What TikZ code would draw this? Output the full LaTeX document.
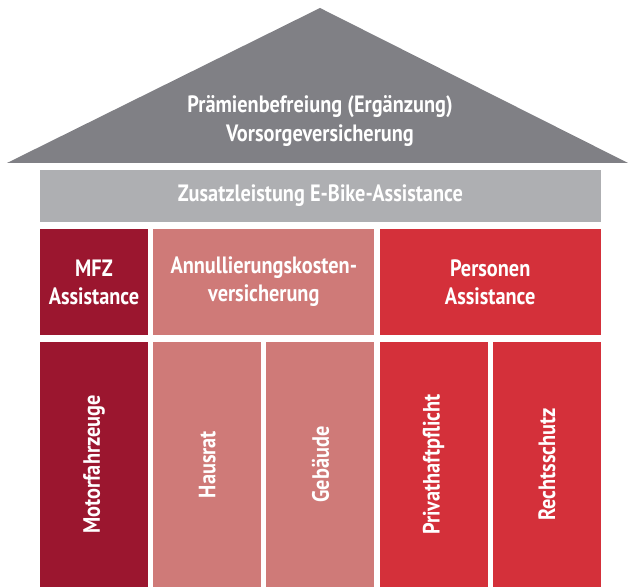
\documentclass[tikz,border=0pt]{standalone}
\usepackage{fontspec}
\setmainfont{PT Sans}[FakeStretch=0.86]
\usepackage{tikz}
\definecolor{roofgray}{HTML}{808085}
\definecolor{bargray}{HTML}{AEAFB2}
\definecolor{darkred}{HTML}{9B162F}
\definecolor{rosered}{HTML}{CF7A78}
\definecolor{brightred}{HTML}{D4303A}
\begin{document}
\begin{tikzpicture}[
  block/.style={inner sep=0pt, align=center, text=white, font=\fontsize{16.8}{20}\selectfont\bfseries},
  pillar/.style={block, minimum width=27mm, minimum height=61.25mm},
  beam/.style={block, minimum height=26.5mm},
]
\useasboundingbox (0mm,0mm) rectangle (157mm,146.75mm);

% Roof
\fill[roofgray] (1.75mm,106mm) -- (80mm,144.75mm) -- (157mm,106mm) -- cycle;
\node[block] (roof) at (80mm,116.5mm) {Prämienbefreiung (Ergänzung)\\Vorsorgeversicherung};

% E-Bike bar
\node[block, fill=bargray, minimum width=140.2mm, minimum height=13mm] (ebike) at (80.1mm,97.75mm) {Zusatzleistung E-Bike-Assistance};

% Middle row
\node[beam, fill=darkred, minimum width=27mm] (mfz) at (23.5mm,76.25mm) {MFZ\\Assistance};
\node[beam, fill=rosered, minimum width=55.3mm] (annull) at (65.95mm,76.25mm) {Annullierungskosten-\\versicherung};
\node[beam, fill=brightred, minimum width=55.3mm] (personen) at (122.55mm,76.25mm) {Personen\\Assistance};

% Pillars
\foreach \x/\name/\txt/\col in {0/motor/Motorfahrzeuge/darkred, 1/hausrat/Hausrat/rosered, 2/gebaeude/Gebäude/rosered, 3/privat/Privathaftpflicht/brightred, 4/recht/Rechtsschutz/brightred} {
  \node[pillar, fill=\col] (\name) at (23.5mm+\x*28.3mm,30.625mm) {};
  \node[block, rotate=90] at (\name.center) {\txt};
}

\end{tikzpicture}
\end{document}
